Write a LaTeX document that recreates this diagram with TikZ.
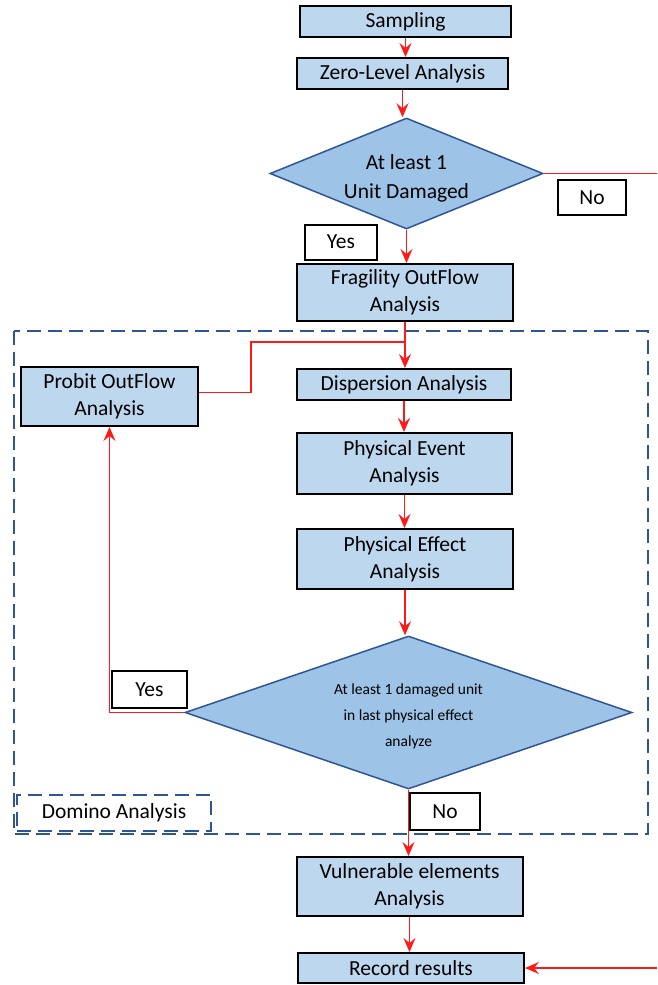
\documentclass[tikz,border=0pt]{standalone}
\usepackage{fontspec}
\setmainfont{Carlito}
\usetikzlibrary{arrows.meta,shapes.geometric}
\definecolor{boxfill}{HTML}{BDD7EE}
\definecolor{diafill}{HTML}{9DC3E6}
\definecolor{diaedge}{HTML}{2F5597}
\definecolor{flow}{HTML}{FF1A1A}
\begin{document}
\begin{tikzpicture}[x=1pt,y=-1pt,
  procbox/.style={draw=black, line width=2pt, fill=boxfill, inner sep=0pt, align=center, font=\fontsize{21.5}{27}\selectfont},
  decision/.style={diamond, draw=diaedge, line width=1.5pt, fill=diafill, inner sep=0pt},
  tagbox/.style={draw=black, line width=2pt, fill=white, inner sep=0pt, font=\fontsize{21.5}{24}\selectfont},
  flowline/.style={draw=flow, line width=1.4pt},
  flowarrow/.style={flowline, -{Stealth[length=14pt,width=12pt,inset=5pt]}},
  frame/.style={draw=diaedge, line width=2pt, dash pattern=on 14pt off 7pt}
]
\useasboundingbox (0,0) rectangle (657,985);
\fill[white] (0,0) rectangle (657,985);

% dashed domino frame
\draw[frame] (14,331) rectangle (648,834);
\node[frame, minimum width=194pt, minimum height=36pt, inner sep=0pt, font=\fontsize{21.5}{24}\selectfont] (domino) at (114,813) {Domino Analysis};

% process boxes
\node[procbox, minimum width=211pt, minimum height=31pt] (samp) at (405.5,21.5) {Sampling};
\node[procbox, minimum width=211pt, minimum height=31pt] (zero) at (402.5,73.5) {Zero-Level Analysis};
\node[procbox, minimum width=216pt, minimum height=57pt] (frag) at (405,292.5) {Fragility OutFlow\\Analysis};
\node[procbox, minimum width=177pt, minimum height=59pt] (prob) at (109.5,396.5) {Probit OutFlow\\Analysis};
\node[procbox, minimum width=214pt, minimum height=31pt] (disp) at (404,384.5) {Dispersion Analysis};
\node[procbox, minimum width=215pt, minimum height=61pt] (event) at (404.5,463.5) {Physical Event\\Analysis};
\node[procbox, minimum width=216pt, minimum height=60pt] (effect) at (405,559) {Physical Effect\\Analysis};
\node[procbox, minimum width=226pt, minimum height=59pt] (vuln) at (409.5,886.5) {Vulnerable elements\\Analysis};
\node[procbox, minimum width=226pt, minimum height=30pt] (rec) at (411,968) {Record results};

% decisions
\node[decision, minimum width=273pt, minimum height=111pt, shape aspect=2.46] (d1) at (406.5,173.5) {};
\node[font=\fontsize{21.5}{29}\selectfont, align=center] (d1txt) at (406.5,178) {At least 1\\Unit Damaged};
\node[decision, minimum width=447pt, minimum height=153pt, shape aspect=2.92] (d2) at (408.5,712.5) {};
\node[font=\fontsize{15.5}{26}\selectfont, align=center] (d2txt) at (408.5,716) {At least 1 damaged unit\\in last physical effect\\analyze};

% yes / no tags
\node[tagbox, minimum width=68pt, minimum height=35pt] (no1) at (592,197.5) {No};
\node[tagbox, minimum width=72pt, minimum height=35pt] (yes1) at (341,242) {Yes};
\node[tagbox, minimum width=75pt, minimum height=37pt] (yes2) at (149.5,689.5) {Yes};
\node[tagbox, minimum width=70pt, minimum height=37pt] (no2) at (445,811.5) {No};

% connectors
\draw[flowarrow] (samp.south) -- (samp.south |- zero.north);
\draw[flowarrow] (zero.south) -- (zero.south |- d1.north);
\coordinate (redge1) at (657,173.5);
\draw[flowline] (d1.east) -- (redge1);
\draw[flowarrow] (d1.south) -- (d1.south |- frag.north);
\draw[flowarrow] (frag.south) -- (frag.south |- disp.north);
\coordinate (jn) at (405,342);
\coordinate (bend) at (251,342);
\draw[flowline] ([yshift=4pt]prob.east) -| (bend) -- (jn);
\draw[flowarrow] (disp.south) -- (disp.south |- event.north);
\draw[flowarrow] (event.south) -- (event.south |- effect.north);
\draw[flowarrow] (effect.south) -- (effect.south |- d2.north);
\draw[flowarrow] (d2.west) -| (prob.south);
\draw[flowarrow] (d2.south) -- (d2.south |- vuln.north);
\draw[flowarrow] (vuln.south) -- (vuln.south |- rec.north);
\coordinate (redge2) at (657,968);
\draw[flowarrow] (redge2) -- (rec.east);
\end{tikzpicture}
\end{document}
